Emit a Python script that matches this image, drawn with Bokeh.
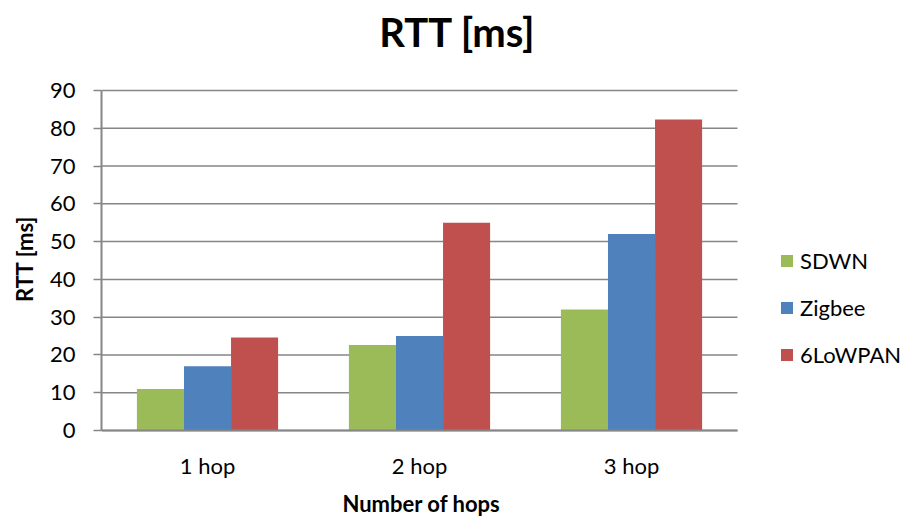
from bokeh.plotting import figure
from bokeh.models import (ColumnDataSource, Range1d, Legend, LegendItem, Label, FixedTicker)
from bokeh.transform import dodge
from bokeh.core.properties import value
from bokeh.embed import file_html
from bokeh.resources import INLINE

categories = ["1 hop", "2 hop", "3 hop"]
sdwn = [11, 22.6, 32]
zigbee = [17, 25, 52]
lowpan = [24.6, 55, 82.3]
series_names = ["SDWN", "Zigbee", "6LoWPAN"]
y_ticks = [0, 10, 20, 30, 40, 50, 60, 70, 80, 90]
title_text = "RTT [ms]"
x_title = "Number of hops"
y_title = "RTT [ms]"
colors = ["#9BBB59", "#4F81BD", "#C0504D"]

FONT = "Lato"
GREY = "#868686"

W, H = 912, 517
FRAME_LEFT = 101          # page x of the value axis
PLOT_RIGHT = 737          # page x where the category area ends
AXIS_BOTTOM_PX = 430      # page y of the category axis
AXIS_TOP_PX = 90          # page y of the top gridline

n = len(categories)
cat_pos = [i + 0.5 for i in range(n)]
y_max = y_ticks[-1]
px_per_unit = (AXIS_BOTTOM_PX - AXIS_TOP_PX) / y_max
# frame covers the canvas right of the value axis, so titles/legend/labels are drawn inside it
x_end = n * (W - FRAME_LEFT) / (PLOT_RIGHT - FRAME_LEFT)
y_end = y_max + AXIS_TOP_PX / px_per_unit
y_start = -(H - AXIS_BOTTOM_PX) / px_per_unit

src = ColumnDataSource(dict(pos=cat_pos, cat=categories, SDWN=sdwn, Zigbee=zigbee, LoWPAN=lowpan))

p = figure(width=W, height=H, x_range=Range1d(0, x_end), y_range=Range1d(y_start, y_end),
           output_backend="svg", toolbar_location=None, x_axis_location=None,
           min_border_left=FRAME_LEFT, min_border_right=0,
           min_border_top=0, min_border_bottom=0)
p.outline_line_color = None
p.background_fill_color = "white"
p.border_fill_color = "white"
p.xgrid.visible = False
p.ygrid.visible = False

# horizontal gridlines across the category area only
p.segment(x0=0, x1=n, y0=y_ticks, y1=y_ticks, line_color=GREY, line_width=1.5)

bw = 0.222
cols = ["SDWN", "Zigbee", "LoWPAN"]
offsets = [-bw, 0.0, bw]
renderers = []
for c, off, col in zip(cols, offsets, colors):
    r = p.vbar(x=dodge("pos", off), top=c, width=bw, source=src,
               fill_color=col, line_color=None)
    renderers.append(r)

# category axis line and labels
p.segment(x0=0, x1=n, y0=y_ticks[0], y1=y_ticks[0], line_color=GREY, line_width=2)
p.text(x="pos", y=y_ticks[0], text="cat", source=src, y_offset=35,
       text_align="center", text_baseline="middle", text_font=value(FONT),
       text_font_size="22px", text_color="black")

# y axis
p.yaxis.ticker = FixedTicker(ticks=y_ticks)
p.yaxis.bounds = (0, y_max)
p.yaxis.axis_line_color = GREY
p.yaxis.axis_line_width = 2
p.yaxis.major_tick_line_color = GREY
p.yaxis.major_tick_line_width = 1.5
p.yaxis.major_tick_out = 8
p.yaxis.major_tick_in = 0
p.yaxis.minor_tick_line_color = None
p.yaxis.major_label_standoff = 18
p.yaxis.major_label_text_font = FONT
p.yaxis.major_label_text_font_size = "22px"
p.yaxis.major_label_text_color = "black"
p.yaxis.axis_label = y_title
p.yaxis.axis_label_standoff = 9
p.yaxis.axis_label_text_font = FONT
p.yaxis.axis_label_text_font_style = "bold"
p.yaxis.axis_label_text_font_size = "22px"
p.yaxis.axis_label_text_color = "black"

# chart title
p.add_layout(Label(x=457 - FRAME_LEFT, y=H - 31, x_units="screen", y_units="screen",
                   text=title_text, text_align="center", text_baseline="middle", text_font=FONT,
                   text_font_style="bold", text_font_size="40px", text_color="black"))
# category axis title
p.add_layout(Label(x=421 - FRAME_LEFT, y=H - 503, x_units="screen", y_units="screen",
                   text=x_title, text_align="center", text_baseline="middle", text_font=FONT,
                   text_font_style="bold", text_font_size="22px", text_color="black"))

legend = Legend(items=[LegendItem(label=nm, renderers=[r]) for nm, r in zip(series_names, renderers)],
                location=(779 - FRAME_LEFT, H - 378), orientation="vertical")
legend.glyph_width = 15
legend.glyph_height = 15
legend.label_height = 47
legend.spacing = 0
legend.padding = 0
legend.margin = 0
legend.label_standoff = 6
legend.border_line_color = None
legend.background_fill_alpha = 0
legend.label_text_font = FONT
legend.label_text_font_size = "22px"
legend.label_text_color = "black"
legend.label_text_baseline = "middle"
p.add_layout(legend, "center")

open("out.html", "w").write(file_html(p, INLINE))
